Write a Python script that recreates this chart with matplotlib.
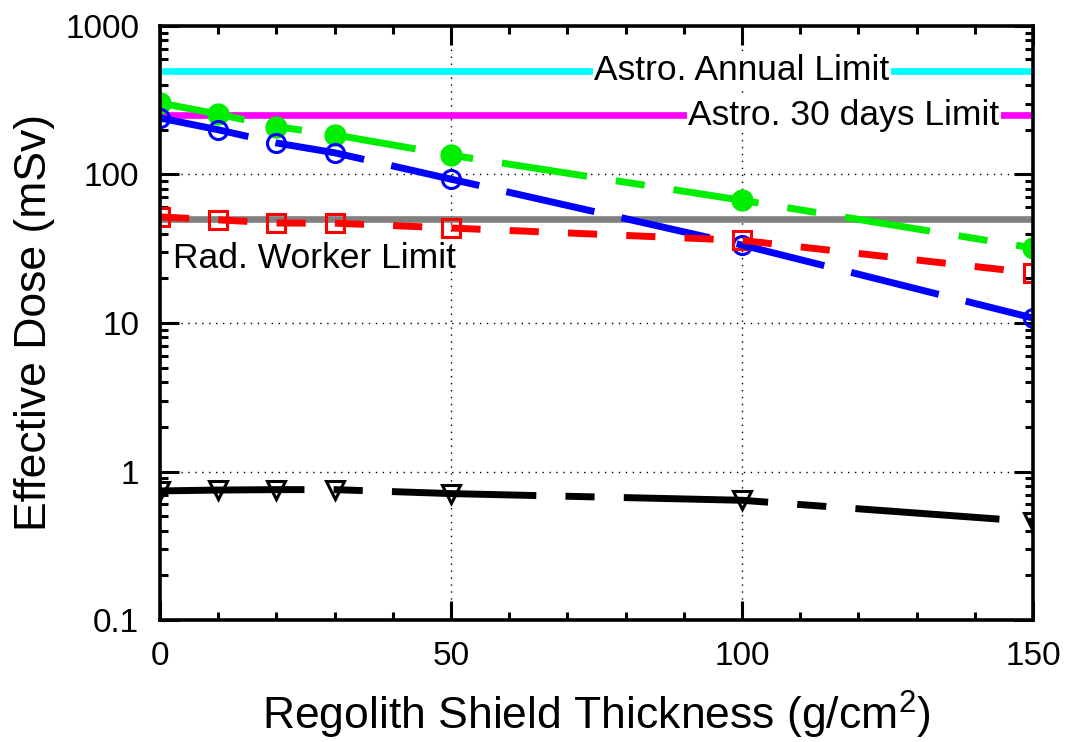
import matplotlib
matplotlib.use("Agg")
import matplotlib.pyplot as plt
from matplotlib.ticker import FixedLocator, LogLocator, NullFormatter, FixedFormatter

plt.rcParams['font.family'] = ['Liberation Sans', 'DejaVu Sans']
plt.rcParams['mathtext.default'] = 'regular'
plt.rcParams['lines.scale_dashes'] = False

# Data
thickness = [0, 10, 20, 30, 50, 100, 150]
dose_green = [303, 255, 210, 185, 135, 67, 32]
dose_blue = [240, 200, 163, 140, 93, 33.5, 10.8]
dose_red = [51.8, 49.5, 47.1, 47, 43.6, 36, 21.7]
dose_black = [0.74, 0.75, 0.755, 0.755, 0.71, 0.64, 0.46]

limit_values = [500, 250, 50]
limit_labels = ["Astro. Annual Limit", "Astro. 30 days Limit", "Rad. Worker Limit"]
limit_colors = ["#00FFFF", "#FF00FF", "#808080"]

y_ticks = [0.1, 1, 10, 100, 1000]
y_tick_labels = ["0.1", "1", "10", "100", "1000"]
x_ticks = [0, 50, 100, 150]

fig = plt.figure(figsize=(10.71, 7.42), dpi=100)
ax = fig.add_axes([0.1494, 0.1644, 0.8151, 0.8006])

ax.set_yscale('log')
ax.set_xlim(0, 150)
ax.set_ylim(0.1, 1000)

# limit lines
for v, c in zip(limit_values, limit_colors):
    ax.axhline(v, color=c, lw=4.8, zorder=2)

lw = 5.0
series = [
    (dose_green, '#00EE00', (0, (62, 21, 21, 21)), dict(marker='o', ms=15, mfc='#00EE00', mec='#00EE00')),
    (dose_blue, '#0000FF', (0, (65, 20)), dict(marker='o', ms=13, mfc='none', mec='#0000FF', mew=2.2)),
    (dose_red, '#FF0000', (0, (21, 21)), dict(marker='s', ms=13, mfc='none', mec='#FF0000', mew=2.2)),
    (dose_black, '#000000', (0, (104, 21, 21, 21)), dict(marker='v', ms=12.5, mfc='white', mec='#000000', mew=2.2)),
]
for ys, c, ls, mk in series:
    ax.plot(thickness, ys, linestyle='none', zorder=3, **mk)
    ax.plot(thickness, ys, color=c, lw=lw, linestyle=ls, zorder=4, solid_capstyle='butt', dash_capstyle='butt')

# labels on limit lines
bb = dict(facecolor='white', edgecolor='none', pad=1)
ax.text(100, limit_values[0], limit_labels[0], fontsize=25.5, ha='center', va='center', bbox=bb, zorder=5)
ax.text(117.5, limit_values[1], limit_labels[1], fontsize=25.5, ha='center', va='center', bbox=bb, zorder=5)
ax.text(2.2, 27, limit_labels[2], fontsize=25.5, ha='left', va='center', zorder=5)

# grid
ax.grid(True, which='major', color='black', linestyle=(0, (1, 4)), lw=1)

ax.xaxis.set_major_locator(FixedLocator(x_ticks))
ax.xaxis.set_minor_locator(FixedLocator(list(range(0, 151, 10))))
ax.yaxis.set_major_locator(FixedLocator(y_ticks))
ax.yaxis.set_major_formatter(FixedFormatter(y_tick_labels))
ax.yaxis.set_minor_locator(LogLocator(base=10, subs=range(2, 10), numticks=20))
ax.yaxis.set_minor_formatter(NullFormatter())

ax.tick_params(which='both', direction='in', top=True, right=True, width=2.2, labelsize=24)
ax.tick_params(which='major', length=14)
ax.tick_params(which='minor', length=6)
ax.tick_params(axis='y', which='major', pad=15)
ax.tick_params(axis='x', which='major', pad=15)

for s in ax.spines.values():
    s.set_linewidth(2.6)
    s.set_zorder(6)

ax.set_xlabel(r"Regolith Shield Thickness (g/cm$^2$)", fontsize=32, labelpad=12)
ax.set_ylabel("Effective Dose (mSv)", fontsize=32, labelpad=7)

fig.savefig("out.png", dpi=100)
